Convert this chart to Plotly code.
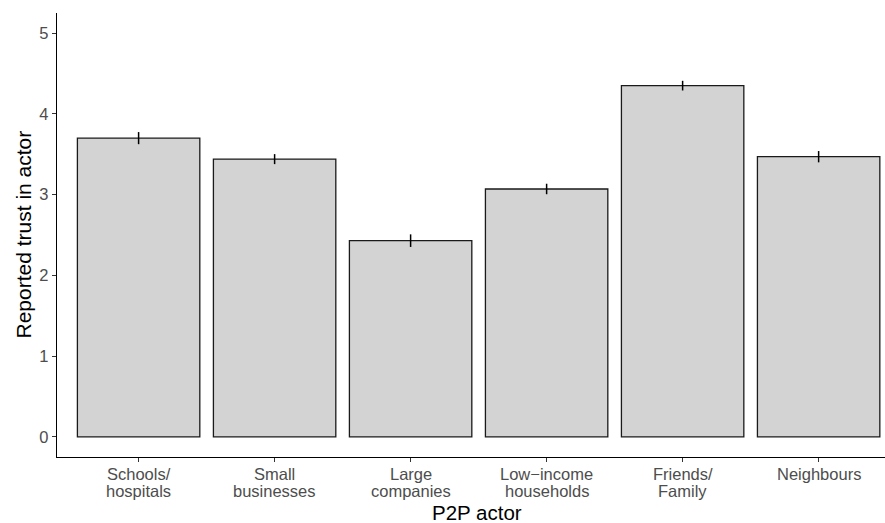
import plotly.graph_objects as go

categories = ["Schools/hospitals", "Small businesses", "Large companies",
              "Low\u2212income households", "Friends/Family", "Neighbours"]
label_line1 = ["Schools/", "Small", "Large", "Low\u2212income", "Friends/", "Neighbours"]
label_line2 = ["hospitals", "businesses", "companies", "households", "Family", ""]
trust_mean = [3.70, 3.44, 2.43, 3.07, 4.35, 3.47]
trust_err = [0.075, 0.062, 0.078, 0.065, 0.06, 0.07]
y_ticks = [0, 1, 2, 3, 4, 5]

x_pos = list(range(1, len(categories) + 1))
FONT = "Liberation Sans, Arial, sans-serif"

fig = go.Figure()
fig.add_trace(go.Bar(
    x=x_pos, y=trust_mean, width=0.9,
    marker=dict(color="#D3D3D3", line=dict(color="#1a1a1a", width=1.3)),
    error_y=dict(type="data", array=trust_err, visible=True,
                 color="black", thickness=1.5, width=0),
    showlegend=False,
    hovertext=categories,
))

annotations = []
for xp, l1, l2 in zip(x_pos, label_line1, label_line2):
    annotations.append(dict(x=xp, xref="x", y=0, yref="paper", text=l1,
                            showarrow=False, yanchor="middle", yshift=-17,
                            font=dict(size=16.5, color="#4D4D4D", family=FONT)))
    if l2:
        annotations.append(dict(x=xp, xref="x", y=0, yref="paper", text=l2,
                                showarrow=False, yanchor="middle", yshift=-34,
                                font=dict(size=16.5, color="#4D4D4D", family=FONT)))

annotations.append(dict(x=0.507, xref="paper", y=0, yref="paper", text="P2P actor",
                        showarrow=False, yanchor="middle", yshift=-55.5,
                        font=dict(size=20.5, color="black", family=FONT)))
annotations.append(dict(x=0, xref="paper", y=0.5, yref="paper",
                        text="Reported trust in actor", textangle=-90,
                        showarrow=False, xanchor="center", yanchor="middle", xshift=-34.5,
                        font=dict(size=21, color="black", family=FONT)))

fig.update_layout(
    width=885, height=523,
    margin=dict(l=57, r=0, t=13, b=66),
    plot_bgcolor="white", paper_bgcolor="white",
    font=dict(family=FONT),
    annotations=annotations,
)
fig.update_xaxes(
    range=[0.4, 6.488], tickmode="array", tickvals=x_pos,
    showticklabels=False, automargin=False,
    showline=True, linecolor="black", linewidth=1.4,
    ticks="outside", ticklen=4, tickcolor="#333333", tickwidth=1.2,
    showgrid=False, zeroline=False,
)
fig.update_yaxes(
    range=[-0.25, 5.25], tickmode="array", tickvals=y_ticks, automargin=False,
    showline=True, linecolor="black", linewidth=1.4,
    ticks="outside", ticklen=4, tickcolor="#333333", tickwidth=1.2,
    tickfont=dict(size=16.5, color="#4D4D4D", family=FONT),
    showgrid=False, zeroline=False,
)

fig.write_html("out.html", config={"displayModeBar": False},
               post_script="document.body.style.margin='0px';document.body.style.overflow='hidden';")
